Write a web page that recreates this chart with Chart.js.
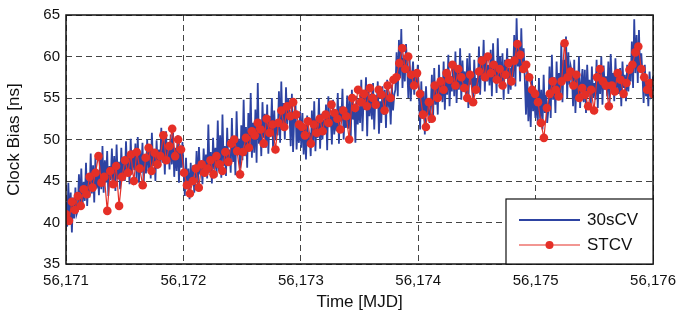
<!DOCTYPE html>
<html lang="en">
<head>
  <meta charset="UTF-8">
  <title>Clock Bias</title>
  <script src="https://cdn.jsdelivr.net/npm/chart.js@4.4.0/dist/chart.umd.min.js"></script>
  <style>
    html, body { margin: 0; padding: 0; background: #fff; }
    #wrap { width: 684px; height: 321px; }
  </style>
</head>
<body>
  <div id="wrap"><canvas id="chart" width="684" height="321"></canvas></div>
  <script>
    // time span (MJD) and axis ticks
    const mjdStart = 56171;
    const mjdEnd = 56176;
    const yTicks = [35, 40, 45, 50, 55, 60, 65];
    const seriesNames = ['30sCV', 'STCV'];

    const bias30s = [
      42.5,39.5,44.8,40.2,43.6,38.8,43.0,40.5,44.2,41.0,
      41.5,45.8,42.2,46.5,41.8,44.9,42.6,47.2,42.0,45.1,
      43.0,48.3,43.5,46.9,42.4,47.8,44.1,46.2,43.3,48.0,
      44.0,49.2,43.6,47.5,44.8,48.6,43.2,46.8,45.1,48.9,
      44.5,48.0,43.8,49.4,45.2,47.3,44.0,49.0,45.6,47.9,
      45.0,49.8,46.1,48.2,44.6,50.1,45.8,48.7,46.3,49.5,
      45.2,50.3,44.8,48.5,46.0,49.6,44.5,48.1,45.9,50.0,
      46.2,49.4,45.3,50.8,46.8,48.3,45.0,49.9,46.5,48.8,
      46.8,51.4,47.2,50.2,45.8,51.0,47.5,49.3,46.4,50.6,
      47.0,50.8,45.5,49.0,46.2,50.5,44.8,48.5,46.6,49.7,
      46.0,43.2,47.8,44.0,46.5,42.8,47.2,44.5,46.9,43.6,
      45.0,48.6,44.2,49.1,45.8,47.4,44.6,48.9,46.0,48.2,
      45.3,51.8,46.0,48.5,44.7,50.2,46.4,49.0,45.5,52.3,
      46.2,50.5,45.4,53.0,46.8,49.2,45.6,51.4,47.0,48.8,
      46.0,52.6,47.3,49.8,45.7,53.4,48.2,50.1,46.5,51.7,
      47.5,54.8,48.0,51.5,46.6,53.2,49.0,55.6,47.8,52.0,
      48.4,53.6,47.2,56.8,49.5,52.4,48.0,54.5,50.2,53.1,
      49.0,54.2,48.3,52.8,50.6,55.0,48.8,53.5,49.9,52.2,
      50.5,55.8,49.6,57.0,51.2,54.4,50.0,56.3,51.8,55.0,
      53.0,49.2,55.5,48.5,52.6,54.8,48.8,51.9,49.6,53.4,
      49.0,53.2,48.2,51.8,47.6,52.9,49.5,50.8,48.0,53.5,
      49.5,54.6,48.6,52.5,50.2,55.0,48.9,53.1,50.0,52.4,
      50.8,54.2,48.7,55.2,51.5,53.0,49.4,54.8,50.6,52.7,
      51.0,55.6,49.5,54.0,52.2,56.1,50.0,53.6,51.4,55.3,
      51.3,54.9,50.0,56.0,52.4,53.5,49.6,55.2,51.8,54.0,
      52.0,57.2,51.0,55.0,53.6,57.5,50.4,56.2,52.8,55.5,
      52.4,56.8,51.2,55.3,53.8,57.0,50.7,54.6,52.0,56.4,
      53.0,56.0,51.4,57.2,54.2,55.0,51.8,56.6,53.5,55.4,
      56.0,60.5,55.2,62.0,57.4,63.3,56.2,59.8,57.0,61.5,
      58.8,55.0,60.2,54.6,57.5,59.4,55.4,58.0,56.3,59.0,
      55.5,51.2,57.0,52.5,55.8,50.6,56.4,53.0,54.6,52.0,
      53.5,57.8,52.4,58.6,54.2,56.5,53.0,59.0,55.0,57.2,
      54.5,59.4,53.6,58.0,55.4,60.2,54.0,57.6,55.8,59.0,
      55.2,60.6,54.4,58.8,56.0,61.0,54.8,59.5,56.4,58.2,
      55.0,59.8,53.8,60.4,56.6,58.0,54.4,59.6,55.8,57.4,
      56.0,61.2,55.4,59.5,57.6,62.0,55.8,60.3,57.0,59.0,
      56.5,60.8,55.2,61.6,57.2,59.4,55.6,62.2,56.8,60.0,
      56.2,60.4,54.8,59.6,57.4,61.0,55.5,58.6,56.0,60.0,
      57.5,62.6,56.4,64.6,58.8,61.5,57.0,63.4,58.2,61.0,
      57.2,53.0,58.4,52.2,56.0,51.5,57.6,53.4,55.2,52.6,
      55.6,51.8,57.4,52.5,56.0,51.2,57.8,53.2,55.4,52.0,
      53.6,58.8,52.6,60.2,54.8,57.5,53.2,59.4,55.5,58.0,
      55.4,61.5,54.5,59.6,57.0,62.4,55.0,60.5,56.6,58.8,
      58.0,54.0,59.6,53.2,57.4,55.0,60.0,53.8,56.8,58.5,
      54.5,58.4,53.2,59.0,55.6,57.2,53.6,58.8,55.0,56.8,
      54.8,59.6,53.8,58.2,55.5,60.0,54.2,58.9,56.0,57.6,
      55.2,59.4,54.2,60.3,56.4,58.0,54.6,59.8,56.0,58.4,
      55.5,58.6,54.0,59.4,56.2,57.8,54.6,59.0,55.8,58.2,
      57.0,61.8,56.2,64.5,58.0,62.6,56.8,63.2,58.4,60.4,
      57.8,54.4,59.0,55.2,57.2,54.0,58.2,55.6,56.4,57.6
    ];

    // STCV clock bias [ns], evenly sampled over the span
    const biasST = [
      41.0,40.2,42.5,41.5,43.2,42.0,44.0,43.4,
      45.5,44.2,46.0,48.0,44.8,45.5,41.4,46.2,
      44.6,46.8,42.0,45.5,47.5,46.0,48.2,45.0,
      48.5,46.5,44.5,47.8,49.0,46.2,48.4,47.0,
      48.0,50.5,47.5,49.2,51.3,48.0,50.0,48.8,
      46.0,44.5,43.5,45.0,46.5,44.2,47.0,46.0,
      46.5,47.5,45.8,48.0,47.0,46.2,48.5,47.3,
      49.5,50.0,48.6,45.8,48.5,50.2,49.0,51.0,
      50.5,52.0,51.2,49.5,52.5,50.8,51.8,48.8,
      52.0,53.5,51.5,54.0,52.8,54.5,53.0,51.8,
      51.5,50.5,52.2,49.5,51.8,50.8,52.5,51.0,
      53.0,52.0,54.2,53.2,52.5,51.2,53.5,52.8,
      50.0,55.0,53.8,56.0,54.5,55.5,54.0,56.2,
      55.0,54.2,56.0,55.4,53.5,56.5,55.0,57.2,
      57.5,59.2,61.0,58.5,60.0,57.8,56.5,58.0,
      55.5,53.0,51.5,54.5,52.5,56.5,55.0,57.0,
      56.0,58.0,57.2,59.0,56.5,58.5,57.5,56.2,
      55.0,57.8,54.5,56.0,58.2,59.5,57.5,60.0,
      58.0,59.0,57.2,58.5,56.5,57.8,59.2,57.0,
      59.5,61.5,60.2,58.5,59.0,57.5,56.0,55.5,
      54.5,52.0,50.2,53.8,55.5,57.0,56.0,55.2,
      57.0,61.6,57.5,58.2,56.5,57.8,55.0,56.2,
      55.4,54.0,56.0,53.5,57.5,58.5,57.0,56.5,
      54.0,56.5,55.8,58.0,57.2,55.5,56.8,58.4,
      59.0,60.5,61.2,58.5,57.5,56.0,56.8,55.5
    ];

    const toPoints = (vals) => vals.map((v, i) => ({
      x: mjdStart + i * (mjdEnd - mjdStart) / (vals.length - 1),
      y: v
    }));

    const blue = '#2d43a2';
    const red = '#e52f27';
    const fontFam = '"Liberation Sans", Arial, Helvetica, sans-serif';

    // solid frame round the plot + legend box in the lower right
    const framePlugin = {
      id: 'frame',
      afterDraw(chart) {
        const { ctx, chartArea: a } = chart;
        ctx.save();
        ctx.strokeStyle = '#111';
        ctx.lineWidth = 1.5;
        ctx.setLineDash([]);
        ctx.strokeRect(a.left, a.top, a.right - a.left, a.bottom - a.top);

        // legend
        const bx = 506, by = 199, bw = a.right - bx, bh = a.bottom - by;
        ctx.fillStyle = '#fff';
        ctx.fillRect(bx, by, bw, bh);
        ctx.lineWidth = 1.2;
        ctx.strokeRect(bx, by, bw, bh);
        ctx.font = '17px ' + fontFam;
        ctx.textBaseline = 'middle';
        ctx.fillStyle = '#111';
        const rows = [by + 21, by + 46];
        // 30sCV
        ctx.strokeStyle = blue;
        ctx.lineWidth = 2.2;
        ctx.beginPath(); ctx.moveTo(519, rows[0]); ctx.lineTo(580, rows[0]); ctx.stroke();
        ctx.fillText(seriesNames[0], 587, rows[0]);
        // STCV
        ctx.strokeStyle = red;
        ctx.lineWidth = 1.2;
        ctx.beginPath(); ctx.moveTo(519, rows[1]); ctx.lineTo(580, rows[1]); ctx.stroke();
        ctx.fillStyle = red;
        ctx.beginPath(); ctx.arc(549.5, rows[1], 4, 0, Math.PI * 2); ctx.fill();
        ctx.fillStyle = '#111';
        ctx.fillText(seriesNames[1], 587, rows[1]);
        ctx.restore();
      }
    };

    const ctx = document.getElementById('chart').getContext('2d');
    new Chart(ctx, {
      type: 'line',
      data: {
        datasets: [{
          label: seriesNames[0],
          data: toPoints(bias30s),
          borderColor: blue,
          borderWidth: 1.8,
          pointRadius: 0,
          tension: 0,
          order: 2
        }, {
          label: seriesNames[1],
          data: toPoints(biasST),
          borderColor: red,
          backgroundColor: red,
          borderWidth: 1.2,
          pointRadius: 4.3,
          pointBorderWidth: 0,
          tension: 0,
          order: 1
        }]
      },
      options: {
        responsive: false,
        animation: false,
        layout: { padding: { top: 14, right: 29, left: 4, bottom: 4 } },
        plugins: { legend: { display: false }, tooltip: { enabled: false } },
        scales: {
          x: {
            type: 'linear',
            min: mjdStart,
            max: mjdEnd,
            ticks: {
              stepSize: 1,
              color: '#111',
              font: { family: fontFam, size: 15 },
              padding: 8,
              callback: (v) => v.toLocaleString('en-US')
            },
            grid: { color: '#444', lineWidth: 1, drawTicks: false },
            border: { display: false, dash: [6, 4] },
            title: { display: true, text: 'Time [MJD]', color: '#111', font: { family: fontFam, size: 17 }, padding: { top: 0, bottom: 4 } },
            afterFit: (s) => { s.height = 53; }
          },
          y: {
            min: yTicks[0],
            max: yTicks[yTicks.length - 1],
            afterBuildTicks: (s) => { s.ticks = yTicks.map(v => ({ value: v })); },
            ticks: {
              color: '#111',
              font: { family: fontFam, size: 15 },
              padding: 6
            },
            grid: { color: '#444', lineWidth: 1, drawTicks: false },
            border: { display: false, dash: [6, 4] },
            title: { display: true, text: 'Clock Bias [ns]', color: '#111', font: { family: fontFam, size: 17 }, padding: { top: 0, bottom: 6 } },
            afterFit: (s) => { s.width = 62; }
          }
        }
      },
      plugins: [framePlugin]
    });
  </script>
</body>
</html>
